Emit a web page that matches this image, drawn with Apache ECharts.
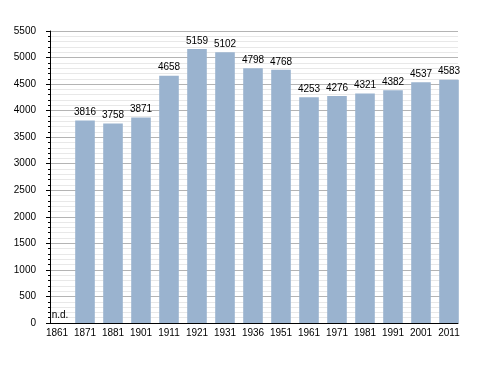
<!DOCTYPE html>
<html><head><meta charset="utf-8">
<script src="https://cdn.jsdelivr.net/npm/echarts@6/dist/echarts.min.js"></script>
<style>html,body{margin:0;padding:0;background:#fff}#c{width:488px;height:373px}</style>
</head><body><div id="c"></div>
<script>
var years = ['1861','1871','1881','1901','1911','1921','1931','1936','1951','1961','1971','1981','1991','2001','2011'];
var population = [0,3816,3758,3871,4658,5159,5102,4798,4768,4253,4276,4321,4382,4537,4583];
var missingLabel = 'n.d.';
var yMax = 5500, yStep = 500;

var font = 'Liberation Sans, Arial, sans-serif';
var chart = echarts.init(document.getElementById('c'));
chart.setOption({
  animation: false,
  textStyle: {fontFamily: font},
  grid: [
    {left: 50, top: 31, width: 408, height: 292},
    {left: 43, top: 31, width: 420, height: 292}
  ],
  xAxis: [
    {gridIndex: 0, type: 'value', min: 0, max: 1, axisLine: {show: true, onZero: false, lineStyle: {color: '#000', width: 1}},
     axisTick: {show: false}, axisLabel: {show: false}, splitLine: {show: false}},
    {gridIndex: 1, type: 'category', data: years, axisLine: {show: false}, axisTick: {show: false},
     axisLabel: {color: '#000', fontSize: 10, margin: 5, fontFamily: font, interval: 0}}
  ],
  yAxis: [
    {gridIndex: 0, type: 'value', min: 0, max: yMax, interval: yStep,
     axisLine: {show: true, lineStyle: {color: '#000', width: 1}},
     axisTick: {show: true, length: 4, lineStyle: {color: '#000'}},
     minorTick: {show: true, splitNumber: 5, length: 2, lineStyle: {color: '#000'}},
     axisLabel: {color: '#000', fontSize: 10, margin: 14, fontFamily: font,
       formatter: function (v) { return String(v); }},
     splitLine: {show: true, lineStyle: {color: '#b4b4b4', width: 1}},
     minorSplitLine: {show: true, lineStyle: {color: '#e8e8e8', width: 1}}},
    {gridIndex: 1, type: 'value', min: 0, max: yMax, show: false, splitLine: {show: false}}
  ],
  series: [{
    type: 'bar', xAxisIndex: 1, yAxisIndex: 1, data: population,
    barCategoryGap: '30%',
    itemStyle: {color: '#9ab3cf'},
    label: {show: true, position: 'top', distance: 3, color: '#000', fontSize: 10, fontFamily: font,
      formatter: function (p) { return p.value ? String(p.value) : missingLabel; }},
    labelLayout: function (p) {
      return p.dataIndex === 0 ? {dx: 3} : {};
    }
  }]
});
</script></body></html>
